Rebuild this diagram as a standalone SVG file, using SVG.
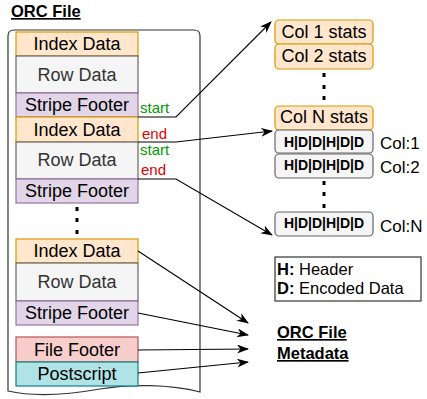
<svg xmlns="http://www.w3.org/2000/svg" width="427" height="399" viewBox="0 0 427 399">
<defs>
<style>
.t{font-family:"Liberation Sans",Arial,sans-serif;font-size:18px;text-anchor:middle;fill:#000}
.cl{font-family:"Liberation Sans",Arial,sans-serif;font-size:17px;fill:#000}
.idx{fill:#ffe6cc;stroke:#d79b00;stroke-width:1.2}
.row{fill:#f5f5f5;stroke:#666666;stroke-width:1.2}
.sf{fill:#e1d5e7;stroke:#9673a6;stroke-width:1.2}
.ff{fill:#f8cecc;stroke:#b85450;stroke-width:1.2}
.ps{fill:#b0e3e6;stroke:#0e8088;stroke-width:1.2}
.hdd{font-family:"Liberation Sans",Arial,sans-serif;font-size:14px;font-weight:bold;text-anchor:middle}
.lbl{font-family:"Liberation Sans",Arial,sans-serif;font-size:15px}
.c{fill:none;stroke:#000;stroke-width:1.1;marker-end:url(#ah)}
.ttl{font-family:"Liberation Sans",Arial,sans-serif;font-size:16.5px;font-weight:bold;text-decoration:underline}
.lg{font-family:"Liberation Sans",Arial,sans-serif;font-size:16.5px}
</style>
<marker id="ah" viewBox="0 0 12 9" refX="11" refY="4.5" markerWidth="12" markerHeight="9" markerUnits="userSpaceOnUse" orient="auto">
<path d="M0,0 L12,4.5 L0,9 L3.5,4.5 Z" fill="#000"/>
</marker>
</defs>

<g id="title">
<text class="ttl" x="11" y="17">ORC File</text>
</g>

<g id="document">
<path d="M8,36 Q8,30 14,30 L194,30 Q200,30 200,36 L200,392 C170,384 130,384 100,389 C60,396 30,396 8,391 Z" fill="#fff" stroke="#333" stroke-width="1.2"/>
</g>

<g id="stripe1">
<rect class="idx" x="16" y="32" width="122" height="24"/><text class="t" x="77" y="50">Index Data</text>
<rect class="row" x="16" y="56" width="122" height="37"/><text class="t" x="77" y="81" style="fill:#333">Row Data</text>
<rect class="sf" x="16" y="93" width="122" height="24"/><text class="t" x="77" y="111">Stripe Footer</text>
</g>
<g id="stripe2">
<rect class="idx" x="16" y="117" width="122" height="25"/><text class="t" x="77" y="136">Index Data</text>
<rect class="row" x="16" y="142" width="122" height="37"/><text class="t" x="77" y="166" style="fill:#333">Row Data</text>
<rect class="sf" x="16" y="179" width="122" height="24"/><text class="t" x="77" y="197">Stripe Footer</text>
</g>
<g id="dots-left">
<rect x="75.5" y="207" width="3" height="4"/><rect x="75.5" y="218" width="3" height="4"/><rect x="75.5" y="230" width="3" height="4"/>
</g>
<g id="stripe3">
<rect class="idx" x="16" y="239" width="122" height="24"/><text class="t" x="77" y="257">Index Data</text>
<rect class="row" x="16" y="263" width="122" height="38"/><text class="t" x="77" y="288" style="fill:#333">Row Data</text>
<rect class="sf" x="16" y="301" width="122" height="24"/><text class="t" x="77" y="319">Stripe Footer</text>
</g>
<g id="file-footer">
<rect class="ff" x="16" y="337" width="122" height="25"/><text class="t" x="77" y="356">File Footer</text>
</g>
<g id="postscript">
<rect class="ps" x="16" y="362" width="122" height="24"/><text class="t" x="77" y="380">Postscript</text>
</g>

<g id="col-stats">
<rect class="idx" x="275" y="20" width="98" height="24" rx="4"/><text class="t" x="324" y="38">Col 1 stats</text>
<rect class="idx" x="275" y="44" width="98" height="25" rx="4"/><text class="t" x="324" y="62">Col 2 stats</text>
<rect x="322.5" y="73" width="3" height="4"/><rect x="322.5" y="85" width="3" height="4"/><rect x="322.5" y="96" width="3" height="4"/>
<rect class="idx" x="275" y="106" width="98" height="24" rx="4"/><text class="t" x="324" y="123">Col N stats</text>
</g>

<g id="col-data">
<rect class="row" x="275" y="130" width="98" height="23" rx="4"/><text class="hdd" x="324" y="147">H|D|D|H|D|D</text>
<text class="cl" x="380" y="149">Col:1</text>
<rect class="row" x="275" y="154" width="98" height="24" rx="4"/><text class="hdd" x="324" y="170">H|D|D|H|D|D</text>
<text class="cl" x="380" y="173">Col:2</text>
<rect x="322.5" y="181" width="3" height="4"/><rect x="322.5" y="192" width="3" height="4"/><rect x="322.5" y="204" width="3" height="4"/>
<rect class="row" x="275" y="212" width="98" height="24" rx="4"/><text class="hdd" x="324" y="228">H|D|D|H|D|D</text>
<text class="cl" x="380" y="232">Col:N</text>
</g>

<g id="legend">
<rect x="275" y="257" width="146" height="44" fill="#fff" stroke="#333" stroke-width="1.2"/>
<text class="lg" x="277" y="275"><tspan font-weight="bold">H:</tspan> Header</text>
<text class="lg" x="277" y="294"><tspan font-weight="bold">D:</tspan> Encoded Data</text>
</g>

<g id="metadata">
<text class="ttl" x="277" y="338">ORC File</text>
<text class="ttl" x="277" y="359">Metadata</text>
</g>

<g id="connectors">
<path class="c" d="M138,117 L176,117 L271,22"/>
<path class="c" d="M138,142 L176,142 L272,131"/>
<path class="c" d="M138,179 L176,179 L272,235"/>
<path class="c" d="M138,251 L248,323"/>
<path class="c" d="M138,313 L248,335"/>
<path class="c" d="M138,350 L248,349"/>
<path class="c" d="M138,373 L248,362"/>
<text class="lbl" x="140" y="113" fill="#009900">start</text>
<text class="lbl" x="142" y="139" fill="#dd0000">end</text>
<text class="lbl" x="140" y="155" fill="#009900">start</text>
<text class="lbl" x="141" y="175" fill="#dd0000">end</text>
</g>
</svg>
